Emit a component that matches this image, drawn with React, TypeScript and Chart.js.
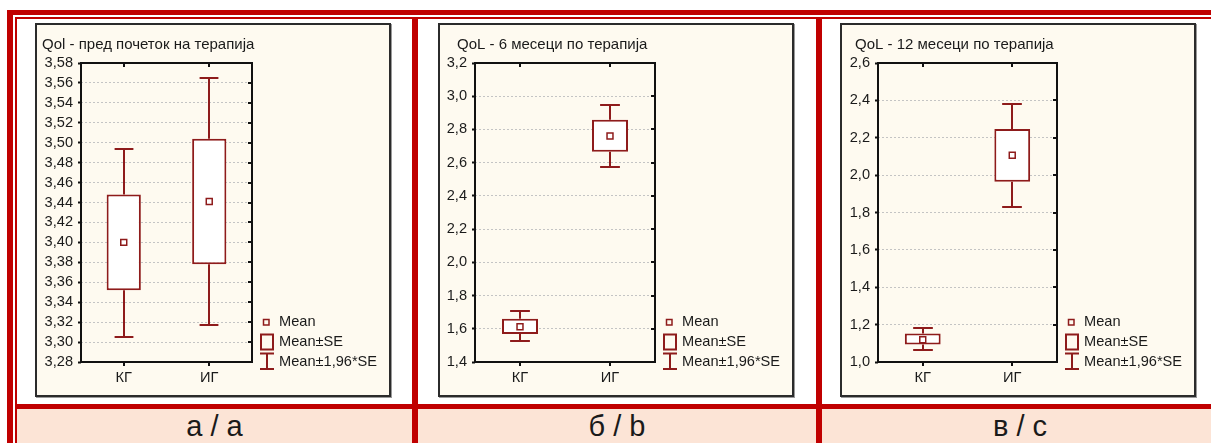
import React, { useEffect, useRef } from "react";
import { Chart, registerables } from "chart.js";

Chart.register(...registerables);

// ---------- data ----------
const groups = ["КГ", "ИГ"];
const legendLabels = ["Mean", "Mean±SE", "Mean±1,96*SE"];
const panelCaptions = ["а / a", "б / b", "в / c"];

const titleA = "Qol - пред почеток на терапија";
const meanA = [3.4, 3.441];
const seLowA = [3.352, 3.378];
const seHighA = [3.448, 3.504];
const ciLowA = [3.305, 3.317];
const ciHighA = [3.494, 3.565];
const ticksA = [3.28, 3.3, 3.32, 3.34, 3.36, 3.38, 3.4, 3.42, 3.44, 3.46, 3.48, 3.5, 3.52, 3.54, 3.56, 3.58];

const titleB = "QoL - 6 месеци по терапија";
const meanB = [1.612, 2.76];
const seLowB = [1.568, 2.666];
const seHighB = [1.661, 2.859];
const ciLowB = [1.524, 2.576];
const ciHighB = [1.705, 2.949];
const ticksB = [1.4, 1.6, 1.8, 2.0, 2.2, 2.4, 2.6, 2.8, 3.0, 3.2];

const titleC = "QoL - 12 месеци по терапија";
const meanC = [1.119, 2.106];
const seLowC = [1.093, 1.965];
const seHighC = [1.153, 2.247];
const ciLowC = [1.062, 1.827];
const ciHighC = [1.183, 2.381];
const ticksC = [1.0, 1.2, 1.4, 1.6, 1.8, 2.0, 2.2, 2.4, 2.6];

// ---------- styles ----------
const TABLE_RED = "#c00000";
const DARK_RED = "#8e1b1b";
const PEACH = "#fce4d6";
const CREAM = "#fefaf0";
const TEXT = "#1a1a1a";
const FONT = '"Liberation Sans", Arial, sans-serif';
const TICK_SIZE = 14.6;
const TITLE_SIZE = 15;

const PANEL_W = 356;
const PANEL_H = 374;
const PLOT_TOP = 40;
const PLOT_BOTTOM_SPACE = 35;
const RIGHT_SPACE = 139;

type PanelCfg = {
  key: string;
  title: string;
  mean: number[];
  seLow: number[];
  seHigh: number[];
  ciLow: number[];
  ciHigh: number[];
  ticks: number[];
  decimals: number;
  panelLeft: number;
  plotLeft: number;
  titleX: number;
};

const panels: PanelCfg[] = [
  { key: "a", title: titleA, mean: meanA, seLow: seLowA, seHigh: seHighA, ciLow: ciLowA, ciHigh: ciHighA, ticks: ticksA, decimals: 2, panelLeft: 35, plotLeft: 46, titleX: 7 },
  { key: "b", title: titleB, mean: meanB, seLow: seLowB, seHigh: seHighB, ciLow: ciLowB, ciHigh: ciHighB, ticks: ticksB, decimals: 1, panelLeft: 438, plotLeft: 37, titleX: 19 },
  { key: "c", title: titleC, mean: meanC, seLow: seLowC, seHigh: seHighC, ciLow: ciLowC, ciHigh: ciHighC, ticks: ticksC, decimals: 1, panelLeft: 840, plotLeft: 38, titleX: 15 },
];

function PanelChart({ cfg }: { cfg: PanelCfg }) {
  const ref = useRef<HTMLCanvasElement>(null);
  useEffect(() => {
    const canvas = ref.current!;
    const fmt = (v: number) => v.toFixed(cfg.decimals).replace(".", ",");
    const decor = {
      id: "decor_" + cfg.key,
      afterDatasetsDraw(chart: any) {
        const { ctx, chartArea: ca, scales } = chart;
        const x = scales.x;
        const y = scales.y;
        const catW = (ca.right - ca.left) / groups.length;
        const capHalf = catW * 0.11;
        ctx.save();
        ctx.strokeStyle = DARK_RED;
        ctx.lineWidth = 2;
        groups.forEach((_, i) => {
          const cx = Math.round(x.getPixelForValue(i));
          const yHi = Math.round(y.getPixelForValue(cfg.ciHigh[i]));
          const yLo = Math.round(y.getPixelForValue(cfg.ciLow[i]));
          const bHi = y.getPixelForValue(cfg.seHigh[i]);
          const bLo = y.getPixelForValue(cfg.seLow[i]);
          ctx.beginPath();
          ctx.moveTo(cx, yHi);
          ctx.lineTo(cx, bHi);
          ctx.moveTo(cx, bLo);
          ctx.lineTo(cx, yLo);
          ctx.moveTo(cx - capHalf, yHi);
          ctx.lineTo(cx + capHalf, yHi);
          ctx.moveTo(cx - capHalf, yLo);
          ctx.lineTo(cx + capHalf, yLo);
          ctx.stroke();
        });
        ctx.restore();
      },
      afterDraw(chart: any) {
        const { ctx, chartArea: ca, scales } = chart;
        const x = scales.x;
        const y = scales.y;
        ctx.save();
        // frame
        ctx.strokeStyle = "#111";
        ctx.lineWidth = 2;
        ctx.strokeRect(ca.left, ca.top, ca.right - ca.left, ca.bottom - ca.top);
        // mirrored ticks
        ctx.beginPath();
        cfg.ticks.forEach((t) => {
          const py = Math.round(y.getPixelForValue(t));
          ctx.moveTo(ca.right - 4, py);
          ctx.lineTo(ca.right, py);
        });
        groups.forEach((_, i) => {
          const px = Math.round(x.getPixelForValue(i));
          ctx.moveTo(px, ca.top);
          ctx.lineTo(px, ca.top + 4);
          ctx.moveTo(px, ca.bottom);
          ctx.lineTo(px, ca.bottom + 4);
        });
        ctx.stroke();
        // title
        ctx.fillStyle = TEXT;
        ctx.font = TITLE_SIZE + "px " + FONT;
        ctx.textBaseline = "middle";
        ctx.textAlign = "left";
        ctx.fillText(cfg.title, cfg.titleX, 22);
        // legend
        ctx.font = TICK_SIZE + "px " + FONT;
        const r0 = ca.bottom - 40;
        const r1 = ca.bottom - 20;
        const r2 = ca.bottom;
        const lx = ca.right;
        ctx.strokeStyle = DARK_RED;
        ctx.lineWidth = 1.5;
        ctx.strokeRect(lx + 11.5, r0 - 2.5, 5.5, 5.5);
        ctx.lineWidth = 2;
        ctx.strokeRect(lx + 9, r1 - 7.5, 12, 15);
        ctx.beginPath();
        ctx.moveTo(lx + 15, r2 - 8.5);
        ctx.lineTo(lx + 15, r2 + 7);
        ctx.moveTo(lx + 8, r2 - 8.5);
        ctx.lineTo(lx + 22, r2 - 8.5);
        ctx.moveTo(lx + 8, r2 + 7);
        ctx.lineTo(lx + 22, r2 + 7);
        ctx.stroke();
        ctx.fillStyle = TEXT;
        ctx.fillText(legendLabels[0], lx + 27, r0);
        ctx.fillText(legendLabels[1], lx + 27, r1);
        ctx.fillText(legendLabels[2], lx + 27, r2);
        ctx.restore();
      },
    };

    const chart = new Chart(canvas, {
      type: "bar",
      data: {
        labels: groups,
        datasets: [
          {
            type: "line",
            data: cfg.mean,
            showLine: false,
            pointStyle: "rect",
            pointRadius: 4.2,
            pointBorderWidth: 1.5,
            pointBorderColor: DARK_RED,
            pointBackgroundColor: "#ffffff",
            order: 0,
          } as any,
          {
            type: "bar",
            data: groups.map((_, i) => [cfg.seLow[i], cfg.seHigh[i]]),
            backgroundColor: "#ffffff",
            borderColor: DARK_RED,
            borderWidth: 2,
            borderSkipped: false,
            barPercentage: 0.4,
            categoryPercentage: 1,
            order: 1,
          } as any,
        ],
      },
      options: {
        animation: false,
        responsive: false,
        devicePixelRatio: 1,
        layout: { padding: { left: 0, top: PLOT_TOP, right: RIGHT_SPACE, bottom: 0 } },
        plugins: {
          legend: { display: false },
          title: { display: false },
          tooltip: { enabled: false },
        },
        scales: {
          x: {
            offset: true,
            grid: { display: false, drawTicks: false },
            border: { display: false },
            ticks: { color: TEXT, font: { family: FONT, size: TICK_SIZE }, padding: 7.2 },
            afterFit: (s: any) => {
              s.height = PLOT_BOTTOM_SPACE;
            },
          },
          y: {
            min: cfg.ticks[0],
            max: cfg.ticks[cfg.ticks.length - 1],
            afterBuildTicks: (s: any) => {
              s.ticks = cfg.ticks.map((v) => ({ value: v }));
            },
            ticks: {
              color: TEXT,
              font: { family: FONT, size: TICK_SIZE },
              padding: 5,
              autoSkip: false,
              callback: (v: any) => fmt(Number(v)),
            },
            grid: { color: "#c4c4c4", lineWidth: 1, tickColor: "#111", tickLength: 3, tickWidth: 2 },
            border: { display: false, dash: [2, 2] },
            afterFit: (s: any) => {
              s.width = cfg.plotLeft;
            },
          },
        },
      },
      plugins: [decor],
    } as any);
    return () => chart.destroy();
  }, []);
  return (
    <canvas
      ref={ref}
      width={PANEL_W}
      height={PANEL_H}
      style={{ position: "absolute", left: 0, top: 0, width: PANEL_W, height: PANEL_H }}
    />
  );
}

const abs = (left: number, top: number, width: number, height: number, bg: string): React.CSSProperties => ({
  position: "absolute",
  left,
  top,
  width,
  height,
  background: bg,
});

export default function App() {
  const captionCells = [
    { left: 17, width: 395 },
    { left: 418, width: 398 },
    { left: 822, width: 396 },
  ];
  return (
    <div style={{ position: "fixed", left: 0, top: 0, width: 1211, height: 443, background: "#fff", overflow: "hidden" }}>
      <div style={abs(17, 409, 1194, 34, PEACH)} />
      <div style={abs(7, 10, 6, 433, TABLE_RED)} />
      <div style={abs(7, 10, 1204, 5, TABLE_RED)} />
      <div style={abs(15, 17, 1196, 2, TABLE_RED)} />
      <div style={abs(15, 17, 2, 426, TABLE_RED)} />
      <div style={abs(412, 17, 6, 426, TABLE_RED)} />
      <div style={abs(816, 17, 6, 426, TABLE_RED)} />
      <div style={abs(15, 404, 1196, 5, TABLE_RED)} />
      {captionCells.map((c, i) => (
        <div
          key={i}
          style={{
            position: "absolute",
            left: c.left,
            top: 409,
            width: c.width,
            height: 34,
            lineHeight: "34px",
            fontSize: 29,
            fontFamily: FONT,
            color: TEXT,
            textAlign: "center",
          }}
        >
          {panelCaptions[i]}
        </div>
      ))}
      {panels.map((p) => (
        <div
          key={p.key}
          style={{
            position: "absolute",
            left: p.panelLeft,
            top: 23,
            width: PANEL_W,
            height: PANEL_H,
            background: CREAM,
            boxShadow: "1px 1px 0 #9a9a9a",
          }}
        >
          <PanelChart cfg={p} />
          <div
            style={{
              position: "absolute",
              left: 0,
              top: 0,
              width: PANEL_W,
              height: PANEL_H,
              boxSizing: "border-box",
              border: "2px solid #2b2b2b",
              pointerEvents: "none",
            }}
          />
        </div>
      ))}
    </div>
  );
}
